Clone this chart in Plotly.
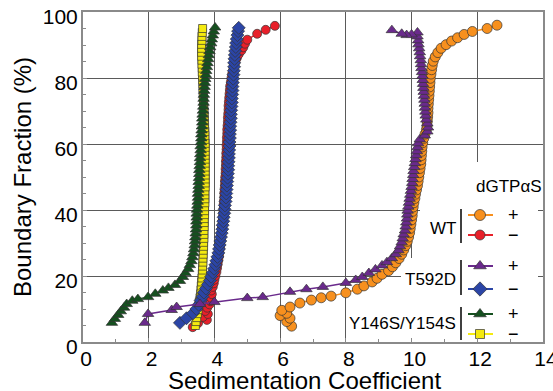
import plotly.graph_objects as go

# ---------------- data ----------------
wt_plus_s = [
    6.35, 6.20, 6.30, 6.00, 6.20, 6.05, 6.30, 6.60, 6.95, 7.25,
    7.55, 8.00, 8.35, 8.55, 8.80, 8.95, 9.10, 9.30, 9.42, 9.52,
    9.62, 9.70, 9.76, 9.82, 9.87, 9.91, 9.94, 9.96, 9.98, 10.00,
    10.02, 10.03, 10.05, 10.07, 10.10, 10.12, 10.15, 10.18, 10.20, 10.22,
    10.24, 10.26, 10.28, 10.29, 10.30, 10.31, 10.32, 10.34, 10.37, 10.41,
    10.45, 10.47, 10.48, 10.49, 10.50, 10.50, 10.51, 10.52, 10.53, 10.54,
    10.55, 10.56, 10.57, 10.59, 10.61, 10.63, 10.66, 10.72, 10.80, 10.90,
    11.05, 11.22, 11.40, 11.60, 11.85, 12.30, 12.60]
wt_plus_f = [
    4.8, 6.2, 7.2, 8.0, 8.7, 9.6, 10.6, 11.8, 12.7, 13.4,
    13.9, 14.9, 16.0, 17.0, 18.2, 19.3, 20.5, 21.6, 22.8, 24.0,
    25.3, 26.6, 27.9, 29.2, 30.5, 31.8, 33.1, 34.4, 35.7, 37.0,
    38.3, 39.6, 40.9, 42.2, 43.5, 44.8, 46.1, 47.4, 48.7, 50.0,
    51.3, 52.6, 53.9, 55.2, 56.5, 57.8, 59.1, 60.4, 61.7, 63.0,
    64.3, 65.6, 66.9, 68.2, 69.5, 70.8, 72.1, 73.4, 74.7, 76.0,
    77.3, 78.6, 79.9, 81.2, 82.5, 83.8, 85.1, 86.4, 87.7, 89.0,
    90.1, 91.2, 92.2, 93.2, 94.1, 95.0, 96.0]

wt_minus_s = [
    3.34, 3.50, 3.77, 3.65, 3.80, 3.72, 3.78, 3.85, 3.88, 3.90,
    3.92, 3.90, 3.95, 3.98, 4.00, 4.03, 4.06, 4.08, 4.10, 4.12,
    4.14, 4.15, 4.17, 4.18, 4.20, 4.21, 4.22, 4.23, 4.24, 4.25,
    4.26, 4.27, 4.28, 4.28, 4.29, 4.30, 4.30, 4.31, 4.32, 4.32,
    4.33, 4.34, 4.34, 4.35, 4.35, 4.36, 4.36, 4.37, 4.37, 4.38,
    4.38, 4.39, 4.39, 4.40, 4.41, 4.41, 4.42, 4.43, 4.43, 4.44,
    4.45, 4.46, 4.47, 4.48, 4.50, 4.52, 4.54, 4.57, 4.60, 4.64,
    4.68, 4.74, 4.82, 4.88, 4.93, 5.00, 5.30, 5.56, 5.84]
wt_minus_f = [
    4.5, 5.7, 6.7, 7.6, 8.5, 9.4, 10.4, 11.4, 12.4, 13.4,
    14.5, 15.6, 16.7, 17.8, 18.9, 20.0, 21.2, 22.4, 23.6, 24.8,
    26.0, 27.2, 28.4, 29.6, 30.8, 32.0, 33.2, 34.4, 35.6, 36.8,
    38.0, 39.2, 40.4, 41.6, 42.8, 44.0, 45.2, 46.4, 47.6, 48.8,
    50.0, 51.2, 52.4, 53.6, 54.8, 56.0, 57.2, 58.4, 59.6, 60.8,
    62.0, 63.2, 64.4, 65.6, 66.8, 68.0, 69.2, 70.4, 71.6, 72.8,
    74.0, 75.2, 76.4, 77.6, 78.8, 80.0, 81.2, 82.4, 83.6, 84.8,
    86.0, 87.2, 88.3, 89.3, 90.4, 91.6, 93.4, 94.6, 95.8]

t592d_plus_s = [
    1.88, 1.98, 2.70, 2.85, 3.56, 4.00, 5.00, 5.47, 6.30, 6.80,
    7.30, 8.00, 8.30, 8.50, 8.70, 8.90, 9.10, 9.25, 9.40, 9.52,
    9.60, 9.65, 9.70, 9.73, 9.76, 9.80, 9.82, 9.84, 9.86, 9.87,
    9.88, 9.90, 9.92, 9.94, 9.96, 9.98, 10.00, 10.02, 10.03, 10.05,
    10.06, 10.08, 10.10, 10.12, 10.14, 10.16, 10.18, 10.20, 10.25, 10.40,
    10.48, 10.50, 10.48, 10.45, 10.43, 10.42, 10.41, 10.40, 10.39, 10.38,
    10.37, 10.36, 10.35, 10.34, 10.33, 10.32, 10.30, 10.29, 10.28, 10.26,
    10.25, 10.23, 10.21, 10.20, 10.18, 10.18, 10.00, 9.85, 9.70, 9.40]
t592d_plus_f = [
    5.8, 8.5, 9.7, 10.6, 11.5, 12.1, 13.3, 13.6, 15.2, 16.0,
    16.7, 17.9, 18.8, 19.7, 20.9, 22.0, 23.2, 24.2, 25.4, 26.6,
    27.8, 29.0, 30.2, 31.4, 32.6, 33.8, 35.0, 36.2, 37.4, 38.6,
    39.8, 41.0, 42.2, 43.4, 44.6, 45.8, 47.0, 48.2, 49.4, 50.6,
    51.8, 53.0, 54.2, 55.4, 56.6, 57.8, 59.0, 60.2, 61.4, 62.6,
    63.8, 65.0, 66.2, 67.4, 68.6, 69.8, 71.0, 72.2, 73.4, 74.6,
    75.8, 77.0, 78.2, 79.4, 80.6, 81.8, 83.0, 84.2, 85.4, 86.6,
    87.8, 89.0, 90.2, 91.4, 92.6, 93.8, 93.2, 93.0, 93.4, 94.5]

t592d_minus_s = [
    2.95, 3.15, 3.35, 3.45, 3.52, 3.58, 3.64, 3.68, 3.74, 3.80,
    3.86, 3.90, 3.95, 3.99, 4.03, 4.06, 4.09, 4.12, 4.14, 4.16,
    4.18, 4.20, 4.22, 4.24, 4.25, 4.27, 4.28, 4.30, 4.31, 4.32,
    4.34, 4.35, 4.36, 4.37, 4.38, 4.39, 4.40, 4.41, 4.42, 4.42,
    4.43, 4.44, 4.44, 4.45, 4.46, 4.46, 4.47, 4.47, 4.48, 4.48,
    4.49, 4.50, 4.50, 4.51, 4.52, 4.53, 4.53, 4.54, 4.55, 4.55,
    4.56, 4.57, 4.58, 4.59, 4.60, 4.60, 4.61, 4.62, 4.63, 4.65,
    4.66, 4.68, 4.70, 4.72, 4.74]
t592d_minus_f = [
    5.8, 7.2, 8.7, 10.0, 11.3, 12.6, 13.8, 15.0, 16.2, 17.4,
    18.6, 19.8, 21.0, 22.2, 23.4, 24.6, 25.8, 27.0, 28.2, 29.4,
    30.6, 31.8, 33.0, 34.2, 35.4, 36.6, 37.8, 39.0, 40.2, 41.4,
    42.6, 43.8, 45.0, 46.2, 47.4, 48.6, 49.8, 51.0, 52.2, 53.4,
    54.6, 55.8, 57.0, 58.2, 59.4, 60.6, 61.8, 63.0, 64.2, 65.4,
    66.6, 67.8, 69.0, 70.2, 71.4, 72.6, 73.8, 75.0, 76.2, 77.4,
    78.6, 79.8, 81.0, 82.2, 83.4, 84.6, 85.8, 87.0, 88.2, 89.4,
    90.6, 91.8, 93.0, 94.2, 95.2]

y146_plus_s = [
    0.88, 0.97, 1.07, 1.15, 1.25, 1.33, 1.50, 1.67, 1.98, 2.20,
    2.43, 2.60, 2.80, 2.95, 3.04, 3.12, 3.20, 3.25, 3.30, 3.33,
    3.36, 3.38, 3.40, 3.41, 3.42, 3.43, 3.44, 3.45, 3.45, 3.46,
    3.46, 3.47, 3.48, 3.49, 3.50, 3.50, 3.51, 3.52, 3.52, 3.53,
    3.54, 3.54, 3.55, 3.56, 3.56, 3.57, 3.58, 3.58, 3.59, 3.60,
    3.60, 3.61, 3.62, 3.63, 3.63, 3.64, 3.65, 3.66, 3.67, 3.67,
    3.68, 3.69, 3.70, 3.71, 3.72, 3.74, 3.75, 3.77, 3.79, 3.81,
    3.83, 3.85, 3.87, 3.90, 3.92, 3.95, 3.98, 4.02]
y146_plus_f = [
    5.8, 7.0, 8.2, 9.3, 10.4, 11.5, 12.5, 13.0, 13.6, 14.6,
    15.6, 16.4, 17.3, 18.5, 19.7, 20.9, 22.1, 23.3, 24.5, 25.7,
    26.9, 28.1, 29.3, 30.5, 31.7, 32.9, 34.1, 35.3, 36.5, 37.7,
    38.9, 40.1, 41.3, 42.5, 43.7, 44.9, 46.1, 47.3, 48.5, 49.7,
    50.9, 52.1, 53.3, 54.5, 55.7, 56.9, 58.1, 59.3, 60.5, 61.7,
    62.9, 64.1, 65.3, 66.5, 67.7, 68.9, 70.1, 71.3, 72.5, 73.7,
    74.9, 76.1, 77.3, 78.5, 79.7, 80.9, 82.1, 83.3, 84.5, 85.7,
    86.9, 88.1, 89.3, 90.5, 91.7, 92.9, 94.1, 95.3]

y146_minus_s = [
    3.42, 3.44, 3.46, 3.48, 3.50, 3.52, 3.54, 3.56, 3.58, 3.59,
    3.60, 3.61, 3.62, 3.63, 3.64, 3.64, 3.65, 3.65, 3.66, 3.66,
    3.67, 3.67, 3.68, 3.68, 3.68, 3.69, 3.69, 3.69, 3.70, 3.70,
    3.70, 3.71, 3.71, 3.71, 3.71, 3.72, 3.72, 3.72, 3.72, 3.72,
    3.72, 3.72, 3.72, 3.72, 3.72, 3.72, 3.72, 3.71, 3.71, 3.71,
    3.70, 3.70, 3.69, 3.69, 3.68, 3.68, 3.67, 3.67, 3.66, 3.66,
    3.65, 3.65, 3.64, 3.64, 3.63, 3.63, 3.62, 3.62, 3.61, 3.61,
    3.61, 3.61, 3.62, 3.62, 3.63, 3.64]
y146_minus_f = [
    5.0, 6.2, 7.4, 8.6, 9.8, 11.0, 12.2, 13.4, 14.6, 15.8,
    17.0, 18.2, 19.4, 20.6, 21.8, 23.0, 24.2, 25.4, 26.6, 27.8,
    29.0, 30.2, 31.4, 32.6, 33.8, 35.0, 36.2, 37.4, 38.6, 39.8,
    41.0, 42.2, 43.4, 44.6, 45.8, 47.0, 48.2, 49.4, 50.6, 51.8,
    53.0, 54.2, 55.4, 56.6, 57.8, 59.0, 60.2, 61.4, 62.6, 63.8,
    65.0, 66.2, 67.4, 68.6, 69.8, 71.0, 72.2, 73.4, 74.6, 75.8,
    77.0, 78.2, 79.4, 80.6, 81.8, 83.0, 84.2, 85.4, 86.6, 87.8,
    89.0, 90.2, 91.4, 92.6, 93.8, 95.0]

x_ticks = [0, 2, 4, 6, 8, 10, 12, 14]
y_ticks = [0, 20, 40, 60, 80, 100]
group_labels = ["WT", "T592D", "Y146S/Y154S"]
sign_labels = ["+", "\u2212"]
legend_title = "dGTP\u03b1S"

# ---------------- styling ----------------
FONT = "Liberation Sans, Arial, Helvetica, sans-serif"
PAGE_OFF = 0                     # body margin removed by post_script below
SCREEN_W, SCREEN_H = 553, 391
W, H = SCREEN_W - PAGE_OFF, SCREEN_H - PAGE_OFF
# plot box in screen pixels
BOX_L, BOX_T, BOX_R, BOX_B = 83, 12, 543, 342
L = BOX_L - PAGE_OFF
T = BOX_T - PAGE_OFF
R = W - (BOX_R - PAGE_OFF)
B = H - (BOX_B - PAGE_OFF)
X0, X1, Y0, Y1 = 0, 14, 0, 100
pw, ph = BOX_R - BOX_L, BOX_B - BOX_T


def dx(px):  # screen pixel -> data x (legend decorations only)
    return X0 + (px - BOX_L) / pw * (X1 - X0)


def dy(py):  # screen pixel -> data y
    return Y0 + (BOX_B - py) / ph * (Y1 - Y0)


series = [
    # name, x, y, color, symbol, size
    ("WT +", wt_plus_s, wt_plus_f, "#f7901e", "circle", 10),
    ("WT -", wt_minus_s, wt_minus_f, "#e8202a", "circle", 9),
    ("Y146S/Y154S -", y146_minus_s, y146_minus_f, "#f4ea10", "square", 8),
    ("Y146S/Y154S +", y146_plus_s, y146_plus_f, "#15501f", "triangle-up", 10),
    ("T592D -", t592d_minus_s, t592d_minus_f, "#2b45a6", "diamond", 10),
    ("T592D +", t592d_plus_s, t592d_plus_f, "#6a2a8c", "triangle-up", 10),
]

fig = go.Figure()
for name, xs, ys, col, sym, sz in series:
    fig.add_trace(go.Scatter(
        x=xs, y=ys, mode="lines+markers", name=name,
        line=dict(color=col, width=1.5),
        marker=dict(symbol=sym, size=sz, color=col,
                    line=dict(color="#333333", width=0.7)),
        showlegend=False, cliponaxis=False))

# ---------------- custom legend ----------------
shapes = []
annotations = []
# white backing behind legend (covers gridlines, below traces)
shapes.append(dict(type="rect", xref="x", yref="y", layer="between",
                   x0=dx(420), x1=dx(538), y0=dy(341), y1=dy(162),
                   fillcolor="white", line=dict(width=0)))
shapes.append(dict(type="rect", xref="x", yref="y", layer="between",
                   x0=dx(401), x1=dx(421), y0=dy(341), y1=dy(258),
                   fillcolor="white", line=dict(width=0)))

legend_rows = [  # (group, sign idx, series index, screen pixel y)
    (0, 0, 0, 215), (0, 1, 1, 235),
    (1, 0, 5, 266), (1, 1, 4, 289),
    (2, 0, 3, 314), (2, 1, 2, 334),
]
group_bars = [(209, 243, 228), (260, 295, 279), (307, 340, 323)]

for gi, (ya, yb, yt) in enumerate(group_bars):
    shapes.append(dict(type="line", xref="x", yref="y",
                       x0=dx(461), x1=dx(461), y0=dy(ya), y1=dy(yb),
                       line=dict(color="black", width=1.5)))
    annotations.append(dict(text=group_labels[gi], xref="x", yref="y",
                            x=dx(457), y=dy(yt), xanchor="right", yanchor="middle",
                            showarrow=False, bgcolor="white", borderpad=0,
                            font=dict(family=FONT, size=17, color="black")))

for gi, si, idx, py in legend_rows:
    name, xs, ys, col, sym, sz = series[idx]
    fig.add_trace(go.Scatter(x=[dx(468), dx(493)], y=[dy(py), dy(py)], mode="lines",
                             line=dict(color=col, width=2), showlegend=False,
                             hoverinfo="skip"))
    fig.add_trace(go.Scatter(x=[dx(480)], y=[dy(py)], mode="markers",
                             marker=dict(symbol=sym, size=sz + 1, color=col,
                                         line=dict(color="#333333", width=0.7)),
                             showlegend=False, hoverinfo="skip", cliponaxis=False))
    annotations.append(dict(text=sign_labels[si], xref="x", yref="y",
                            x=dx(513), y=dy(py), xanchor="center", yanchor="middle",
                            showarrow=False,
                            font=dict(family=FONT, size=18, color="black")))

annotations.append(dict(text=legend_title, xref="x", yref="y",
                        x=dx(509), y=dy(186), xanchor="center", yanchor="middle",
                        showarrow=False, font=dict(family=FONT, size=17, color="black")))

# axis titles
annotations.append(dict(text="Sedimentation Coefficient", xref="paper", yref="paper",
                        x=(304 - BOX_L) / pw, y=-(380 - BOX_B) / ph,
                        xanchor="center", yanchor="middle", showarrow=False,
                        font=dict(family=FONT, size=24, color="black")))
annotations.append(dict(text="Boundary Fraction (%)", xref="paper", yref="paper",
                        x=(22 - BOX_L) / pw, y=0.5, textangle=-90,
                        xanchor="center", yanchor="middle", showarrow=False,
                        font=dict(family=FONT, size=24, color="black")))

axis_common = dict(
    showgrid=True, gridcolor="#5a5a5a", gridwidth=1,
    showline=True, mirror=True, linecolor="#8a8a8a", linewidth=2,
    ticks="inside", ticklen=4, tickcolor="#8a8a8a", tickwidth=1,
    zeroline=False, automargin=False, ticklabeloverflow="allow",
    tickfont=dict(family=FONT, size=21, color="black"),
)

fig.update_layout(
    template="none",
    width=W, height=H,
    margin=dict(l=L, r=R, t=T, b=B, pad=0),
    paper_bgcolor="white", plot_bgcolor="white",
    font=dict(family=FONT, color="black"),
    xaxis=dict(range=[X0, X1], tickvals=x_ticks, ticktext=[str(v) for v in x_ticks],
               ticklabelstandoff=-3, ticklabelshift=3,
               minor=dict(dtick=1, ticks="inside", ticklen=3, tickcolor="#8a8a8a",
                          showgrid=False),
               **axis_common),
    yaxis=dict(range=[Y0, Y1], tickvals=y_ticks, ticktext=[str(v) for v in y_ticks],
               ticklabelstandoff=-1, ticklabelshift=5,
               minor=dict(dtick=5, ticks="inside", ticklen=3, tickcolor="#8a8a8a",
                          showgrid=False),
               **axis_common),
    shapes=shapes, annotations=annotations,
    showlegend=False,
)

fig.write_html(
    "out.html",
    config={"displayModeBar": False, "staticPlot": True},
    post_script=("document.body.style.margin='0';"
                 "document.body.style.overflow='hidden';"
                 "document.documentElement.style.overflow='hidden';"),
)
